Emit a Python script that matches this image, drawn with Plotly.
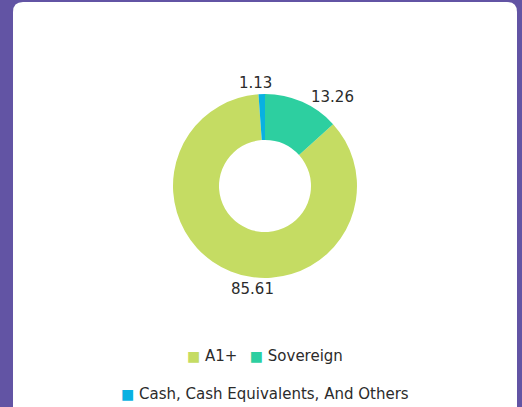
import plotly.graph_objects as go

# Credit-rating allocation (%)
categories = ["A1+", "Sovereign", "Cash, Cash Equivalents, And Others"]
values = [85.61, 13.26, 1.13]
colors = ["#C5DC63", "#2DCFA0", "#08B1E2"]

W, H = 522, 407
FONT = "DejaVu Sans"
TEXT = "#2b2b2b"
PURPLE = "#6254A4"

# donut placement in pixels
cx, cy, r = 265, 186, 92
# value-label anchor points (pixels), one per category
label_xy = [(252, 289), (332, 97), (255, 83)]
# legend rows: which categories go on each row, and the row's vertical centre
legend_rows = [([0, 1], 355.5), ([2], 393.5)]

total = sum(values)
# counterclockwise: first slice starts at `rotation`, later ones run backwards from it
rotation = 360 * values[1] / total

fig = go.Figure()

fig.add_trace(go.Pie(
    labels=categories,
    values=values,
    marker=dict(colors=colors, line=dict(width=0)),
    hole=0.5,
    sort=False,
    direction="counterclockwise",
    rotation=rotation,
    textinfo="none",
    showlegend=False,
    domain=dict(x=[(cx - r) / W, (cx + r) / W],
                y=[(H - cy - r) / H, (H - cy + r) / H]),
))

# an invisible trace so the pixel-sized axes exist for shapes/annotations
fig.add_trace(go.Scatter(x=[None], y=[None], showlegend=False, hoverinfo="skip"))

annotations = []
for v, (lx, ly) in zip(values, label_xy):
    annotations.append(dict(
        x=lx, y=ly, xref="x", yref="y", text=f"{v:.2f}", showarrow=False,
        xanchor="center", yanchor="middle",
        font=dict(family=FONT, size=15, color=TEXT),
    ))

# legend rows built as rich text: coloured square + category name
gap = '<span style="font-size:13px">\u00a0\u00a0\u00a0</span>'
for idx, row_y in legend_rows:
    parts = [
        f'<span style="color:{colors[i]};font-size:14px">\u25A0</span>\u00a0{categories[i]}'
        for i in idx
    ]
    annotations.append(dict(
        x=cx, y=row_y, xref="x", yref="y", text=gap.join(parts), showarrow=False,
        xanchor="center", yanchor="middle",
        font=dict(family=FONT, size=15, color=TEXT),
    ))

fig.update_layout(
    width=W, height=H, autosize=False,
    margin=dict(l=0, r=0, t=0, b=0),
    paper_bgcolor=PURPLE,
    plot_bgcolor="rgba(0,0,0,0)",
    font=dict(family=FONT, color=TEXT),
    showlegend=False,
    xaxis=dict(visible=False, range=[0, W], fixedrange=True),
    yaxis=dict(visible=False, range=[H, 0], fixedrange=True),
    annotations=annotations,
    shapes=[dict(
        type="path", xref="x", yref="y", layer="below",
        path="M 13,430 V 12 Q 13,2 23,2 H 507 Q 517,2 517,12 V 430 Z",
        fillcolor="#FFFFFF", line=dict(width=0),
    )],
)

fig.write_html("out.html")
